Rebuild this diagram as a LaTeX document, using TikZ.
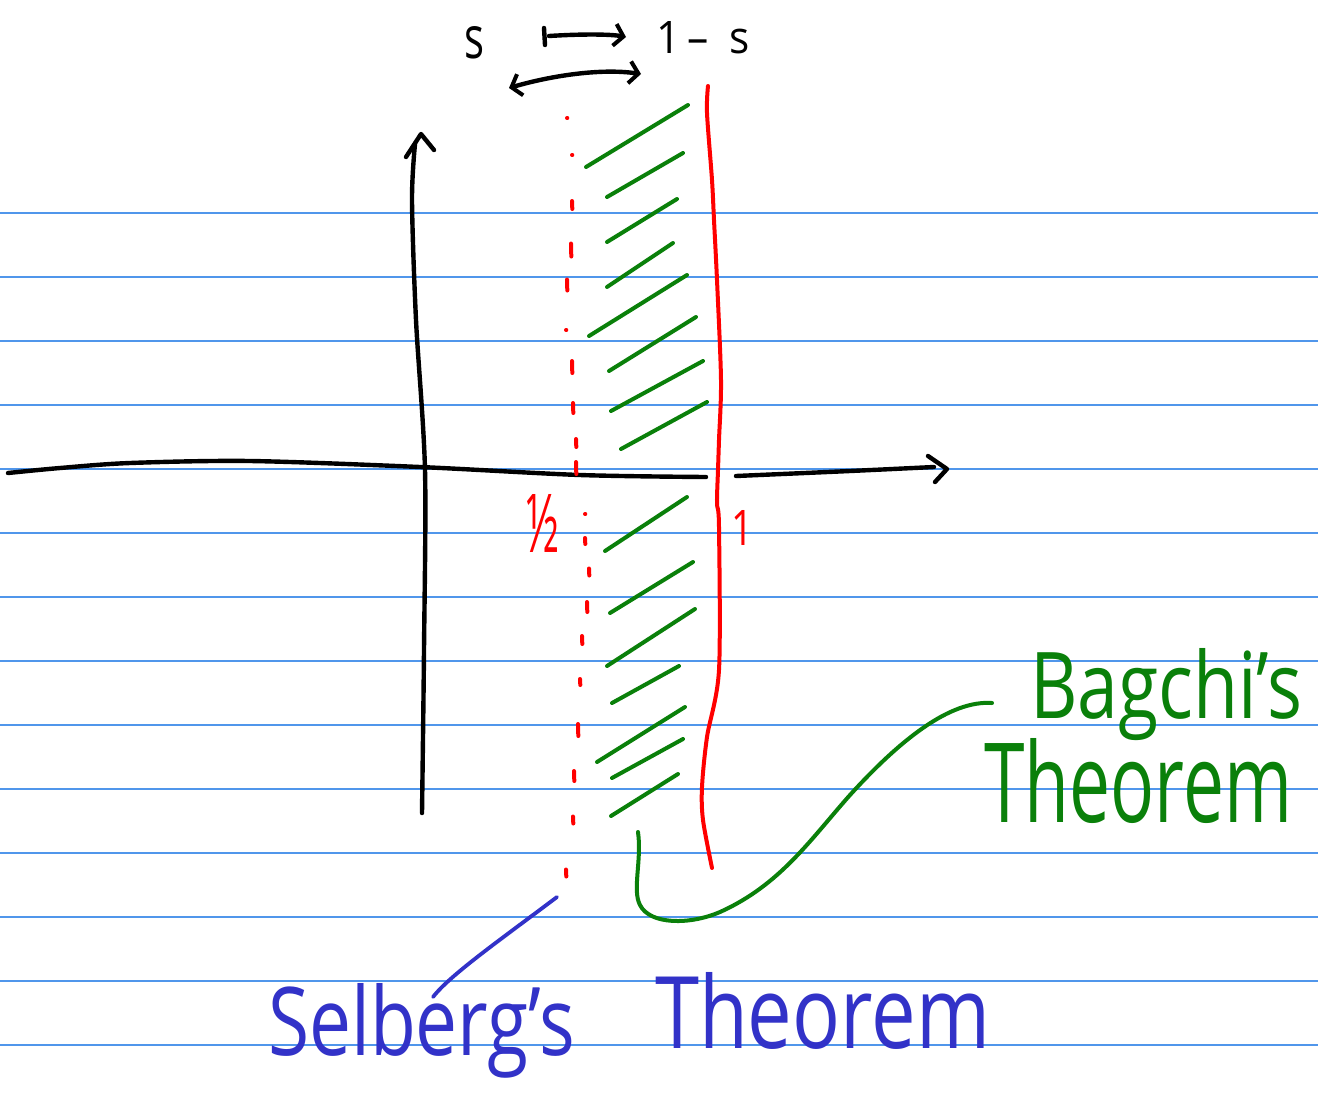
\documentclass[tikz,border=0pt]{standalone}
\usepackage{fontspec}
\setmainfont{Open Sans}
\usepackage{graphicx}
\usetikzlibrary{arrows.meta}
\definecolor{rulecol}{RGB}{80,150,235}
\definecolor{hgreen}{RGB}{10,128,10}
\definecolor{hred}{RGB}{255,0,0}
\definecolor{hblue}{RGB}{50,50,200}
\begin{document}
\begin{tikzpicture}[x=1pt,y=-1pt,line cap=round,line join=round,
  ruled/.style={draw=rulecol,line width=1.3pt},
  blackink/.style={draw=black,line width=4.4pt},
  redink/.style={draw=hred,line width=4pt},
  greenink/.style={draw=hgreen,line width=4pt},
  blueink/.style={draw=hblue,line width=3.8pt},
  lbl/.style={inner sep=0pt,outer sep=0pt,anchor=base west},
  chev/.style={-{Straight Barb[length=9pt,width=22pt,line width=4pt]}}
]
\useasboundingbox (0,0) rectangle (1318,1096);
\fill[white] (0,0) rectangle (1318,1096);
% ruled paper
\foreach \y in {213,277,...,1045} \draw[ruled] (0,\y) -- (1318,\y);

% horizontal axis
\draw[blackink] plot[smooth] coordinates {(8,473) (60,468) (130,463) (250,461) (420,467) (580,475) (706,477)};
\draw[blackink] plot[smooth] coordinates {(736,476) (850,471) (934,467)};
\draw[blackink] (928,456) -- (947,469) -- (935,482);
% vertical axis
\draw[blackink] plot[smooth] coordinates {(422,813) (424,650) (425,470) (416,320) (412,200) (415,144)};
\draw[blackink] (406,157) -- (421,134) -- (434,150);

% red line Re(s)=1
\draw[redink] plot[smooth] coordinates {(708,86) (707,113) (712,180) (714,220) (717,280) (721,380) (719,440) (718,470) (717,503) (719,527) (719,670) (707,737) (702,787) (703,820) (712,868)};
% red dotted line Re(s)=1/2
\foreach \x/\y/\l in {567/118/0,572/155/0,572/205/8,571/250/13,567/285/11,566/330/0,572/367/12,573/408/10,576/443/8,576/468/12,
  585/514/0,585/541/6,589/572/7,587/607/10,582/640/8,580/682/6,578/730/12,574/776/10,573/820/7,566/873/7}
  \draw[redink] ({\x},{\y-\l/2}) -- ({\x+0.3},{\y+\l/2});

% green hatching
\foreach \a/\b/\c/\d in {586/167/688/105, 607/197/683/153, 607/242/677/199, 607/287/673/243,
  589/336/687/275, 609/371/696/317, 611/411/703/361, 621/449/707/402,
  605/551/687/497, 610/613/693/562, 607/666/695/609, 612/703/679/666,
  597/762/685/707, 612/778/683/739, 611/816/678/774}
  \draw[greenink] (\a,\b) -- (\c,\d);

% labels on axis
\node[lbl,text=hred] (half) at (526,552) {\resizebox{33pt}{58pt}{½}};
\node[lbl,text=hred] (one) at (731,545) {\resizebox{22pt}{35pt}{1}};

% top: s |-> 1-s
\node[lbl] (s1) at (464,58) {\resizebox{20pt}{32pt}{s}};
\node[lbl] (oms) at (656,53) {\resizebox{94pt}{32pt}{1\,–\,\,\,s}};
\draw[blackink] (544,28) -- (545,45);
\draw[blackink,chev] (549,36) .. controls (580,34) and (610,34) .. (626,37);
\draw[blackink,{Straight Barb[length=9pt,width=22pt,line width=4pt]}-{Straight Barb[length=9pt,width=22pt,line width=4pt]}]
  (509,88) .. controls (550,76) and (600,68) .. (641,74);

% Bagchi's Theorem
\node[lbl,text=hgreen] (bag) at (1030,718) {\resizebox{272pt}{70pt}{Bagchi's}};
\node[lbl,text=hgreen] (bth) at (984,822) {\resizebox{308pt}{84pt}{Theorem}};
\draw[greenink] (638,832) .. controls (642,860) and (632,890) .. (640,905)
  .. controls (650,925) and (690,925) .. (720,912)
  .. controls (780,885) and (810,840) .. (850,795)
  .. controls (900,740) and (950,700) .. ([xshift=-38pt,yshift=15pt]bag.base west);

% Selberg's Theorem
\node[lbl,text=hblue] (sel) at (268,1055) {\resizebox{307pt}{72pt}{Selberg's}};
\node[lbl,text=hblue] (sth) at (655,1048) {\resizebox{335pt}{76pt}{Theorem}};
\coordinate (selstart) at (557,897);
\draw[blueink] (selstart) .. controls (500,940) and (450,975) .. (433,997);
\end{tikzpicture}
\end{document}
